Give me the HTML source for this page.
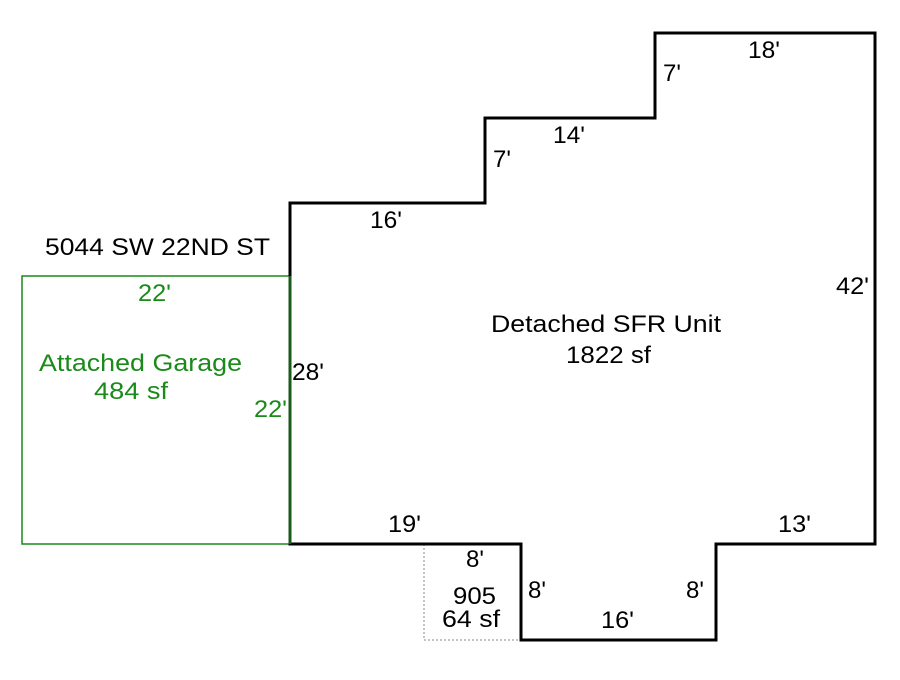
<!DOCTYPE html>
<html><head><style>
body{margin:0;background:#fff;}
svg text{font-family:"Liberation Sans",Arial,sans-serif;font-size:24px;}
</style></head><body>
<svg width="900" height="675" xmlns="http://www.w3.org/2000/svg">
<rect x="0" y="0" width="900" height="675" fill="#fff"/>
<rect x="424" y="544" width="97" height="96" fill="none" stroke="#888" stroke-width="1" stroke-dasharray="2,2"/>
<rect x="22" y="276" width="268" height="268" fill="none" stroke="#1a8a1a" stroke-width="1.5"/>
<polygon points="290,203 485,203 485,118 655,118 655,33 875,33 875,544 716,544 716,640 521,640 521,544 290,544" fill="none" stroke="#000" stroke-width="3"/>
<line x1="290" y1="276" x2="290" y2="544" stroke="#1a5a1a" stroke-width="3"/>
<g fill="#000">
<text x="748" y="58" textLength="32" lengthAdjust="spacingAndGlyphs">18'</text>
<text x="663" y="81">7'</text>
<text x="553" y="143" textLength="32" lengthAdjust="spacingAndGlyphs">14'</text>
<text x="493" y="167">7'</text>
<text x="370" y="228" textLength="32" lengthAdjust="spacingAndGlyphs">16'</text>
<text x="45" y="255" textLength="225" lengthAdjust="spacingAndGlyphs">5044 SW 22ND ST</text>
<text x="836" y="294" textLength="33" lengthAdjust="spacingAndGlyphs">42'</text>
<text x="491" y="332" textLength="230" lengthAdjust="spacingAndGlyphs">Detached SFR Unit</text>
<text x="566" y="363" textLength="85" lengthAdjust="spacingAndGlyphs">1822 sf</text>
<text x="292" y="380" textLength="32" lengthAdjust="spacingAndGlyphs">28'</text>
<text x="388" y="532" textLength="33" lengthAdjust="spacingAndGlyphs">19'</text>
<text x="778" y="532" textLength="33" lengthAdjust="spacingAndGlyphs">13'</text>
<text x="466" y="567">8'</text>
<text x="453" y="604" textLength="43" lengthAdjust="spacingAndGlyphs">905</text>
<text x="442" y="627" textLength="58" lengthAdjust="spacingAndGlyphs">64 sf</text>
<text x="528" y="598">8'</text>
<text x="686" y="598">8'</text>
<text x="601" y="628" textLength="33" lengthAdjust="spacingAndGlyphs">16'</text>
</g>
<g fill="#1a8a1a">
<text x="138" y="301" textLength="33" lengthAdjust="spacingAndGlyphs">22'</text>
<text x="39" y="371" textLength="203" lengthAdjust="spacingAndGlyphs">Attached Garage</text>
<text x="94" y="399" textLength="74" lengthAdjust="spacingAndGlyphs">484 sf</text>
<text x="254" y="417" textLength="33" lengthAdjust="spacingAndGlyphs">22'</text>
</g>
</svg>
</body></html>
